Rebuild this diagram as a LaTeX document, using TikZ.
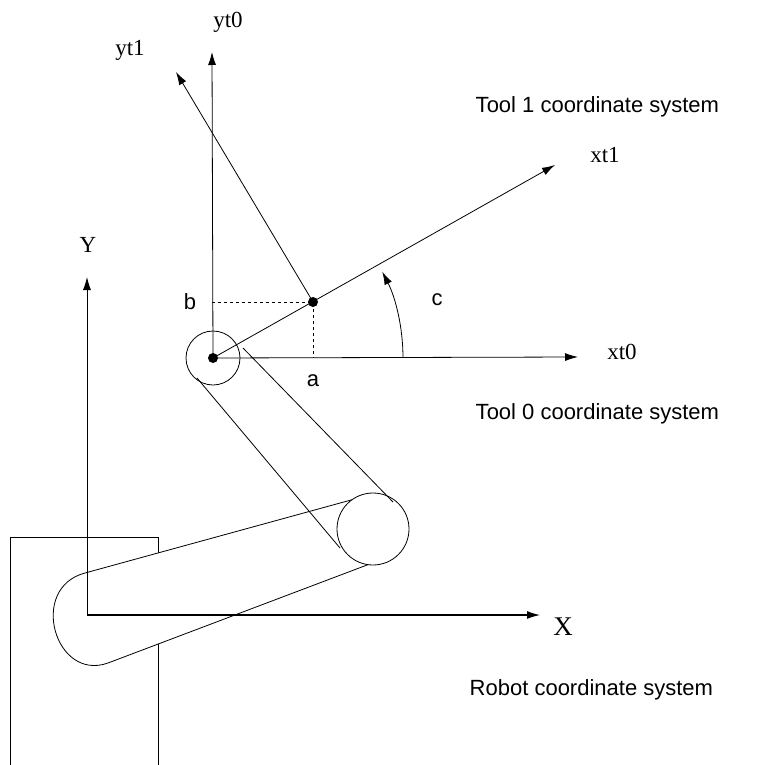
\documentclass[tikz,border=0pt]{standalone}
\usepackage{fontspec}
\usetikzlibrary{positioning,arrows.meta}
\setmainfont{Liberation Sans}
\newfontfamily\serf{Liberation Serif}
\begin{document}
\begin{tikzpicture}[x=1pt,y=-1pt,line width=.8pt,
  axis/.style={-{Latex[length=13pt,width=8pt]}},
  lbl/.style={font=\serf\fontsize{23}{23}\selectfont},
  txt/.style={font=\fontsize{22}{22}\selectfont}]
  \useasboundingbox (0,0) rectangle (784,765);
   \coordinate (Otool) at (213,358);
   \coordinate (Orob) at (87,615);
   \coordinate (Pone) at (313,302);
   \coordinate (Elbow) at (373,529);
% robot base and links
  \draw (10,765) -- (10,537) -- (158,537) -- (158,765);
  \draw[fill=white] (85,573) -- (362,497) -- (375,562) -- (108,663)
     .. controls (55,682) and (28,588) .. (85,573) -- cycle;
  \draw (Orob) -- (87,520);
  \draw[fill=white] (Elbow) circle (36);
  \draw (243,348) -- (393,502);
  \draw (197,378) -- (340,548);
  \draw (Otool) circle (27);
% robot frame
   \draw[axis] (Orob) -- (87,277);
   \draw[axis,line width=1.2pt] (Orob) -- (540,615);
   \node (Y) [lbl] at (88,245) {Y};
   \node (X) [lbl,font=\serf\fontsize{27}{27}\selectfont] at (563,627) {X};
% tool frames
   \draw[axis] (Otool) -- (212,52);
   \draw[axis] (Otool) -- (578,357);
   \draw[axis] (Otool) -- (555,165);
   \draw[axis] (Pone) -- (176,72);
   \node (yt0) [lbl] at (228,22) {yt0};
   \node (yt1) [lbl] at (130,50) {yt1};
   \node (xt1) [lbl] at (605,155) {xt1};
   \node (xt0) [lbl] at (622,352) {xt0};
   \draw[dashed,line width=.6pt] (212,302) -- (Pone) -- (313,358);
   \fill (Pone) circle (5);
   \fill (Otool) circle (5);
   \draw[axis] ([shift={(190,0)}]Otool) arc (0:-27:190);
  \node (b) [txt] at (190,302) {b};
  \node (a) [txt] at (313,381) {a};
  \node (c) [txt] at (437,300) {c};
  \node (tone) [txt,anchor=west] at (472,107) {Tool 1 coordinate system};
  \node (tzero) [txt,anchor=west] at (472,414) {Tool 0 coordinate system};
  \node (rob) [txt,anchor=west] at (466,690) {Robot coordinate system};
\end{tikzpicture}
\end{document}
